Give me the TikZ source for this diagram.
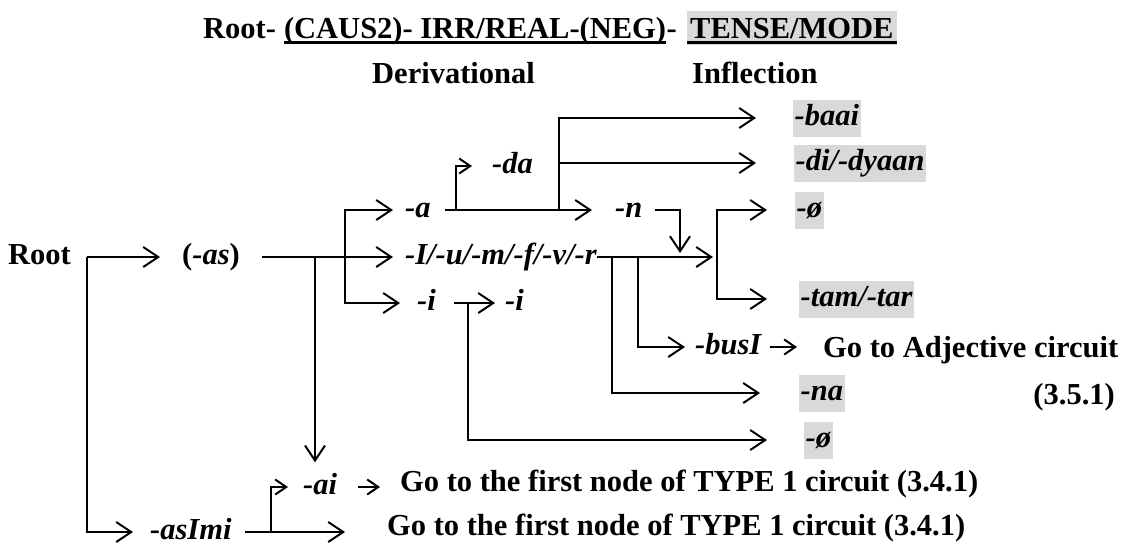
\documentclass[tikz,border=0pt]{standalone}
\usepackage{fontspec}
\setmainfont{Liberation Serif}
\usepackage{tikz}
\usetikzlibrary{arrows.meta}
\definecolor{boxgray}{RGB}{217,217,217}

\begin{document}
\begin{tikzpicture}[x=1pt,y=1pt,yscale=-1,
    every node/.style={font=\fontsize{30.5}{36}\selectfont\bfseries, inner sep=0pt},
    lbl/.style={text height=23pt, text depth=8pt, anchor=west},
    morph/.style={lbl, font=\fontsize{30.5}{36}\selectfont\bfseries\itshape},
    infl/.style={morph, fill=boxgray, inner xsep=1.5pt, inner ysep=3pt},
    arr/.style={line width=2pt, -{Straight Barb[length=15pt,width=20pt]}},
    sarr/.style={line width=2pt, -{Straight Barb[length=11pt,width=15pt]}},
    uline/.style={line width=3pt}]
        \useasboundingbox (0,0) rectangle (1125,547);

        % heading
        \coordinate (ul) at (0,42.5);
        \node[anchor=base west] (tRoot) at (203,38) {Root-};
        \node[anchor=base west] (tCaus) at ([xshift=7.6pt]tRoot.base east) {(CAUS2)- IRR/REAL-(NEG)};
        \node[anchor=base west] (tDash) at (tCaus.base east) {-};
        \node[anchor=base west, fill=boxgray, text height=24pt, text depth=4pt, inner sep=3pt] (tMode) at (687,38) {TENSE/MODE};
        \draw[uline] (tCaus.base west |- ul) -- (tCaus.base east |- ul);
        \draw[uline] (tMode.west |- ul) -- (tMode.east |- ul);
        \node[anchor=base west] (deriv) at (372,83) {Derivational};
        \node[anchor=base west] (infl) at (692,83) {Inflection};

        % branch points
        \coordinate (rj) at (87,257);
        \coordinate (dj) at (315,257);
        \coordinate (sj) at (345,257);
        \coordinate (daj) at (456,210);
        \coordinate (tj) at (559,210);
        \coordinate (nj) at (680,257);
        \coordinate (fj) at (717,257);
        \coordinate (naj) at (612,257);
        \coordinate (bj) at (638,257);
        \coordinate (zj) at (468,303);
        \coordinate (aij) at (271,532);

        \node[lbl] (root) at (8,257) {Root};
        \node[lbl] (as) at (182,257) {(\textit{-as})};
        \node[morph] (a) at (405,210) {-a};
        \node[morph] (I) at (405,257) {-I/-u/-m/-f/-v/-r};
        \node[morph] (ia) at (417,303) {-i};
        \node[morph] (ib) at (505,303) {-i};
        \node[morph] (da) at (492,166) {-da};
        \node[morph] (n) at (615,210) {-n};
        \node[infl] (baai) at (793,118) {-baai};
        \node[infl] (dyaan) at (794,163) {-di/-dyaan};
        \node[infl] (zeroa) at (795,210) {-ø};
        \node[infl] (tam) at (799,299) {-tam/-tar};
        \node[morph] (busI) at (695,347) {-busI};
        \node[lbl] (adj) at (823,350) {Go to Adjective circuit};
        \node[infl] (na) at (799,393) {-na};
        \node[lbl, anchor=east] (secA) at (1115,397) {(3.5.1)};
        \node[infl] (zerob) at (804,440) {-ø};
        \node[morph] (ai) at (303,487) {-ai};
        \node[lbl] (gotoA) at (400,484) {Go to the first node of TYPE 1 circuit (3.4.1)};
        \node[morph] (asImi) at (150,532) {-asImi};
        \node[lbl] (gotoB) at (387,528) {Go to the first node of TYPE 1 circuit (3.4.1)};

        % connectors
        \draw[arr, shorten >=22pt] (rj) -- (as.west);
        \draw[arr, shorten >=17pt] (rj) |- (asImi.west);
        \draw[arr, shorten <=22pt, shorten >=12pt] (as.east) -- (I.west);
        \draw[arr, shorten >=9pt] (dj) -- (dj |- ai.north);
        \draw[arr, shorten >=12pt] (sj) |- (a.west);
        \draw[arr, shorten >=17pt] (sj) |- (ia.west);
        \draw[arr, shorten <=14pt, shorten >=23pt] (a.east) -- (n.west);
        \draw[sarr, shorten >=20pt] (daj) |- (da.west);
        \draw[arr, shorten >=37pt] (tj) |- (baai.west);
        \draw[arr, shorten >=38pt] (tj) |- (dyaan.west);
        \draw[arr, shorten <=12pt, shorten >=4pt] (n.east) -| (nj);
        \draw[arr, shorten >=4pt] (I.east) -- (fj);
        \draw[arr, shorten >=28pt] (fj) |- (zeroa.west);
        \draw[arr, shorten >=32pt] (fj) |- (tam.west);
        \draw[arr, shorten >=10pt] (bj) |- (busI.west);
        \draw[sarr, shorten <=8pt, shorten >=26pt] (busI.east) -- (busI.east -| adj.west);
        \draw[arr, shorten >=39pt] (naj) |- (na.west);
        \draw[arr, shorten <=18pt, shorten >=10pt] (ia.east) -- (ib.west);
        \draw[arr, shorten >=37pt] (zj) |- (zerob.west);
        \draw[arr, shorten <=13pt, shorten >=42pt] (asImi.east) -- (asImi.east -| gotoB.west);
        \draw[sarr, shorten >=15pt] (aij) |- (ai.west);
        \draw[sarr, shorten <=21pt, shorten >=20pt] (ai.east) -- (ai.east -| gotoA.west);
\end{tikzpicture}
\end{document}
